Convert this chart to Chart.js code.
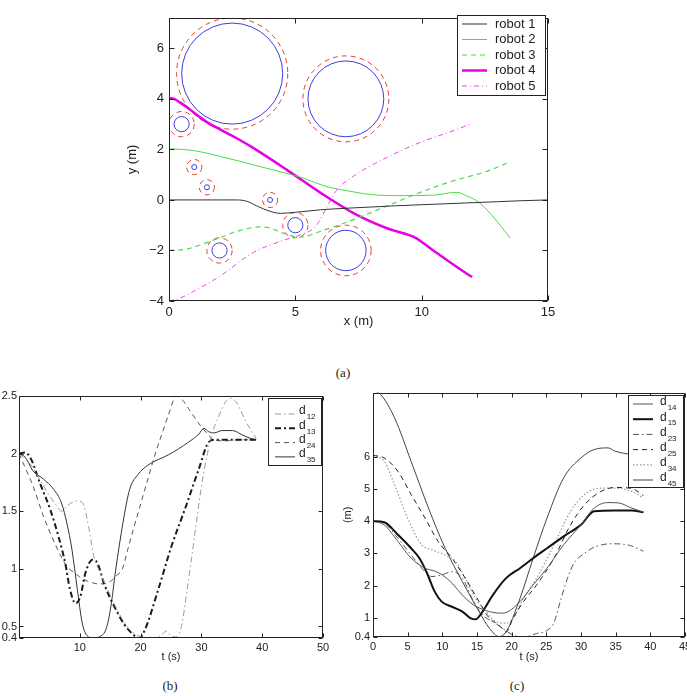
<!DOCTYPE html>
<html>
<head>
<meta charset="utf-8">
<script src="https://cdn.jsdelivr.net/npm/chart.js@4.4.1/dist/chart.umd.min.js"></script>
<style>
  html, body { margin: 0; padding: 0; background: #fff; width: 687px; height: 696px; overflow: hidden; }
  canvas { position: absolute; }
  .cap { position: absolute; font-family: 'Liberation Serif', 'DejaVu Serif', serif; font-size: 13px; color: #222; transform: translate(-50%, -50%); }
</style>
</head>
<body>
<canvas id="chartA" width="460" height="335" style="left:115px;top:0px"></canvas>
<canvas id="chartB" width="340" height="285" style="left:0px;top:385px"></canvas>
<canvas id="chartC" width="370" height="290" style="left:340px;top:383px"></canvas>
<div class="cap" style="left:343px;top:373px">(a)</div>
<div class="cap" style="left:170px;top:686px">(b)</div>
<div class="cap" style="left:517px;top:686px">(c)</div>
<script>
// ---- (a) robot paths in the plane ----
const xTicksA = [0, 5, 10, 15];
const yTicksA = [-4, -2, 0, 2, 4, 6];

const robot1X = [0, 1, 2, 2.7, 3.1, 3.5, 4, 4.4, 5, 6, 7, 8, 9, 10, 11, 12, 13, 14, 15];
const robot1Y = [0, 0, 0, 0, -0.06, -0.25, -0.45, -0.53, -0.49, -0.39, -0.33, -0.28, -0.23, -0.19, -0.15, -0.11, -0.07, -0.03, 0];
const robot2X = [0, 0.5, 1, 2, 3.3, 4.65, 5.3, 6.2, 7.3, 8, 9.3, 10.6, 11.1, 11.4, 11.8, 12.2, 12.7, 13.5];
const robot2Y = [2.02, 2.0, 1.95, 1.73, 1.4, 1.05, 0.87, 0.54, 0.32, 0.21, 0.17, 0.2, 0.28, 0.3, 0.15, -0.05, -0.52, -1.5];
const robot3X = [0, 0.7, 2, 2.7, 3.6, 4, 4.5, 5.2, 6, 7.3, 8.6, 9.9, 11.2, 12.6, 13.5];
const robot3Y = [-2, -1.94, -1.5, -1.24, -1.07, -1.11, -1.31, -1.47, -1.24, -0.78, -0.25, 0.28, 0.74, 1.14, 1.51];
const robot4X = [0, 0.2, 0.43, 0.83, 1.23, 1.5, 2.02, 2.68, 3.33, 4.65, 6, 7.3, 8.6, 9, 9.7, 10.6, 11.9, 12];
const robot4Y = [4.03, 4.0, 3.86, 3.58, 3.27, 3.08, 2.79, 2.44, 2.06, 1.2, 0.28, -0.52, -1.11, -1.24, -1.47, -2.1, -2.99, -3.05];
const robot5X = [0, 0.43, 1, 2, 3.3, 4.4, 5.2, 5.8, 6.2, 6.6, 7.3, 8.6, 9.9, 11.2, 12];
const robot5Y = [-4, -3.89, -3.6, -3.03, -2.1, -1.64, -1.38, -1.05, -0.38, 0.34, 0.94, 1.67, 2.26, 2.72, 3.03];

// obstacles: centre, body radius, safety radius
const obstacleX = [2.5, 7, 0.5, 1, 1.5, 4, 5, 2, 7];
const obstacleY = [5, 4, 3, 1.3, 0.5, 0, -1, -2, -2];
const obstacleR = [2, 1.5, 0.3, 0.1, 0.1, 0.1, 0.3, 0.3, 0.8];
const obstacleSafeR = [2.2, 1.7, 0.5, 0.3, 0.3, 0.3, 0.5, 0.5, 1.0];

// ---- (b) neighbour distances ----
const xTicksB = [0, 10, 20, 30, 40, 50];
const yTicksB = [0.4, 0.5, 1, 1.5, 2, 2.5];
const d12T = [0, 2, 4, 6, 7, 8, 9.5, 10.5, 11.5, 12.3, 13.5, 14.6, 16.2, 17.9, 19.6, 21, 22.5, 23.5, 24.2, 25, 26, 26.8, 27.6, 28.4, 29.3, 30.1, 31, 31.5, 32.9, 34, 34.8, 35.7, 36.5, 37.3, 38.2, 39];
const d12V = [2, 1.9, 1.72, 1.56, 1.5, 1.55, 1.59, 1.57, 1.35, 1.11, 0.95, 0.82, 0.64, 0.49, 0.42, 0.4, 0.4, 0.43, 0.46, 0.42, 0.41, 0.52, 0.8, 1.1, 1.45, 1.75, 2.0, 2.13, 2.33, 2.45, 2.48, 2.45, 2.37, 2.28, 2.2, 2.13];
const d13T = [0, 1, 2, 3.4, 5.1, 6.5, 7.6, 8.4, 9.3, 10.1, 10.9, 12.1, 12.9, 14, 15.7, 17.3, 19, 19.8, 20.7, 22.9, 25.1, 27.3, 29.6, 31.2, 32.3, 35.7, 39];
const d13V = [2, 2.01, 1.95, 1.75, 1.52, 1.28, 1.05, 0.82, 0.7, 0.76, 0.96, 1.08, 1.05, 0.87, 0.67, 0.52, 0.42, 0.4, 0.47, 0.82, 1.2, 1.52, 1.87, 2.1, 2.12, 2.12, 2.12];
const d24T = [0, 1, 2.3, 4, 5.9, 7.9, 9, 10, 11, 12, 13, 14, 15, 16, 17, 17.9, 19, 20.1, 21.2, 22.3, 23.5, 24.6, 25.9, 26.8, 27.9, 29.6, 31.2, 32, 34, 36, 39];
const d24V = [2, 1.88, 1.72, 1.46, 1.22, 1.02, 0.97, 0.93, 0.9, 0.88, 0.87, 0.87, 0.89, 0.94, 1.0, 1.17, 1.38, 1.58, 1.78, 1.98, 2.17, 2.34, 2.5, 2.47, 2.39, 2.26, 2.16, 2.12, 2.11, 2.12, 2.12];
const d35T = [0, 1, 2.3, 4, 5.7, 7, 7.9, 8.7, 9.6, 10.4, 11.2, 12.2, 13.2, 14.4, 15.1, 15.9, 17.1, 18.2, 19.6, 21.2, 24.6, 26.2, 27.9, 28.7, 29.6, 30.4, 31.2, 32.1, 33.4, 35.1, 36.8, 38.2, 39];
const d35V = [2, 1.97, 1.85, 1.78, 1.69, 1.57, 1.39, 1.17, 0.82, 0.53, 0.42, 0.4, 0.41, 0.49, 0.67, 0.99, 1.4, 1.69, 1.82, 1.9, 1.99, 2.04, 2.1, 2.13, 2.17, 2.22, 2.19, 2.18, 2.2, 2.2, 2.16, 2.13, 2.12];

// ---- (c) other robot pairs ----
const xTicksC = [0, 5, 10, 15, 20, 25, 30, 35, 40, 45];
const yTicksC = [0.4, 1, 2, 3, 4, 5, 6];
const d14T = [0, 1.6, 3.6, 5.5, 7.5, 8.9, 10, 11.5, 12.9, 14.5, 16.8, 18.7, 21.2, 23.1, 25.1, 27.5, 30, 31.9, 33.9, 35.4, 37.3, 39];
const d14V = [4, 3.89, 3.37, 2.85, 2.54, 2.45, 2.33, 2.05, 1.7, 1.4, 1.19, 1.14, 1.5, 2.02, 2.54, 3.27, 3.89, 4.41, 4.58, 4.57, 4.41, 4.28];
const d15T = [0, 1.6, 3.6, 5.5, 6.7, 7.7, 8.9, 9.9, 11.4, 12.9, 14.1, 14.8, 15.8, 17.3, 19.2, 21.2, 23.1, 25.1, 27.5, 30, 31.9, 34.9, 37.3, 39];
const d15V = [4, 3.97, 3.58, 3.16, 2.85, 2.43, 1.81, 1.5, 1.34, 1.19, 0.98, 0.95, 1.19, 1.71, 2.23, 2.54, 2.85, 3.16, 3.53, 3.89, 4.31, 4.33, 4.33, 4.28];
const d23T = [0, 1.6, 3.6, 5.5, 7.5, 8.5, 9.9, 11.4, 12.9, 14.3, 15.8, 17.3, 18.7, 20.2, 21.7, 23.6, 25.1, 26.1, 27, 28, 29, 30.5, 32, 34.5, 37, 39];
const d23V = [4, 3.94, 3.47, 2.95, 2.43, 2.28, 2.33, 2.43, 2.23, 1.6, 1.08, 0.88, 0.67, 0.46, 0.4, 0.51, 0.6, 0.85, 1.5, 2.2, 2.7, 3.0, 3.2, 3.3, 3.25, 3.07];
const d25T = [0, 1.6, 3.6, 5.5, 7.5, 9.4, 11.4, 13.3, 15.3, 16.8, 18.2, 19.2, 20.2, 21.7, 23.6, 26.1, 28.5, 30.5, 32.9, 34.9, 37.3, 39];
const d25V = [6.05, 5.97, 5.55, 4.83, 4.1, 3.37, 2.85, 2.23, 1.5, 0.98, 0.77, 0.56, 0.98, 1.5, 2.02, 2.85, 3.89, 4.51, 4.93, 5.05, 5.02, 4.8];
const d34T = [0, 1.6, 3.1, 5, 7, 8.5, 10.4, 11.9, 13.3, 14.8, 16.3, 17.7, 19.2, 20.2, 21.7, 23.6, 26.1, 28.5, 30.5, 32.9, 34.9, 37.3, 39];
const d34V = [6.05, 5.87, 5.14, 4.1, 3.27, 3.11, 2.95, 2.75, 2.23, 1.6, 1.19, 0.88, 0.83, 0.98, 1.6, 2.23, 3.27, 4.31, 4.83, 5.03, 5.03, 4.93, 4.72];
const d45T = [0, 1.1, 3.1, 5.5, 8, 10.4, 12.9, 15.3, 16.8, 18.2, 19.2, 21.2, 23.1, 25.1, 27.5, 30, 31.9, 33.9, 34.9, 37.3, 39];
const d45V = [8.07, 7.94, 7.22, 5.86, 4.41, 3.16, 2.12, 1.19, 0.67, 0.41, 0.56, 1.6, 2.85, 4.1, 5.35, 5.97, 6.23, 6.28, 6.18, 6.07, 6.0];

const sans = "'Liberation Sans', Arial, Helvetica, sans-serif";
Chart.defaults.font.family = sans;
Chart.defaults.color = '#222';
Chart.defaults.animation = false;

function pts(xs, ys) {
  return xs.map((x, i) => ({ x: x, y: ys[i] }));
}

function series(label, xs, ys, color, width, dash) {
  return {
    label: label,
    data: pts(xs, ys),
    borderColor: color,
    borderWidth: width,
    borderDash: dash || [],
    pointRadius: 0,
    fill: false,
    tension: 0.4,
    cubicInterpolationMode: 'monotone'
  };
}

function fmtMinus(v) {
  return v < 0 ? '\u2212' + Math.abs(v) : String(v);
}

// box round the plot + inward tick marks on all four sides
const framePlugin = {
  id: 'frame',
  afterDatasetsDraw(chart, args, opts) {
    const { ctx, chartArea: a, scales } = chart;
    const len = opts.len || 4;
    const L = Math.round(a.left) + 0.5, R = Math.round(a.right) - 0.5;
    const T = Math.round(a.top) + 0.5, B = Math.round(a.bottom) - 0.5;
    ctx.save();
    ctx.strokeStyle = '#222';
    ctx.lineWidth = 1;
    ctx.setLineDash([]);
    ctx.beginPath();
    scales.x.ticks.forEach(t => {
      const px = Math.round(scales.x.getPixelForValue(t.value)) + 0.5;
      ctx.moveTo(px, B); ctx.lineTo(px, B - len);
      ctx.moveTo(px, T); ctx.lineTo(px, T + len);
    });
    scales.y.ticks.forEach(t => {
      const py = Math.round(scales.y.getPixelForValue(t.value)) + 0.5;
      ctx.moveTo(L, py); ctx.lineTo(L + len, py);
      ctx.moveTo(R, py); ctx.lineTo(R - len, py);
    });
    ctx.stroke();
    ctx.strokeRect(L, T, R - L, B - T);
    ctx.restore();
  }
};

// obstacle circles (blue body, red dashed safety ring) in data units
const obstaclePlugin = {
  id: 'obstacles',
  beforeDatasetsDraw(chart) {
    const { ctx, chartArea: a, scales } = chart;
    ctx.save();
    ctx.beginPath();
    ctx.rect(a.left, a.top, a.right - a.left, a.bottom - a.top);
    ctx.clip();
    ctx.lineWidth = 1;
    obstacleX.forEach((ox, i) => {
      const cx = scales.x.getPixelForValue(ox);
      const cy = scales.y.getPixelForValue(obstacleY[i]);
      const rSafe = scales.x.getPixelForValue(ox + obstacleSafeR[i]) - cx;
      const rBody = scales.x.getPixelForValue(ox + obstacleR[i]) - cx;
      ctx.strokeStyle = 'rgb(232, 60, 45)';
      ctx.setLineDash([5, 4]);
      ctx.beginPath();
      ctx.arc(cx, cy, rSafe, 0, Math.PI * 2);
      ctx.stroke();
      ctx.strokeStyle = 'rgb(60, 60, 225)';
      ctx.setLineDash([]);
      ctx.beginPath();
      ctx.arc(cx, cy, rBody, 0, Math.PI * 2);
      ctx.stroke();
    });
    ctx.restore();
  }
};

// legend box inside the plot, matlab style
const boxLegendPlugin = {
  id: 'boxLegend',
  afterDraw(chart, args, o) {
    if (!o || !o.w) return;
    const ctx = chart.ctx;
    ctx.save();
    ctx.fillStyle = '#fff';
    ctx.fillRect(o.x, o.y, o.w, o.h);
    ctx.strokeStyle = '#222';
    ctx.lineWidth = 1;
    ctx.setLineDash([]);
    ctx.strokeRect(o.x + 0.5, o.y + 0.5, o.w, o.h);
    chart.data.datasets.forEach((ds, i) => {
      const ry = o.row0 + i * o.step;
      ctx.strokeStyle = ds.borderColor;
      ctx.lineWidth = ds.borderWidth;
      ctx.setLineDash(ds.borderDash || []);
      ctx.beginPath();
      ctx.moveTo(o.lx0, ry);
      ctx.lineTo(o.lx1, ry);
      ctx.stroke();
      ctx.fillStyle = '#222';
      ctx.textBaseline = 'middle';
      ctx.textAlign = 'left';
      const parts = ds.label.split('_');
      ctx.font = o.size + 'px ' + sans;
      ctx.fillText(parts[0], o.tx, ry + (o.mainDy || 0));
      if (parts[1]) {
        const w = ctx.measureText(parts[0]).width;
        ctx.font = o.subSize + 'px ' + sans;
        ctx.fillText(parts[1], o.tx + w + 1, ry + o.subDy);
      }
    });
    ctx.restore();
  }
};

function axes(cfg) {
  return {
    x: {
      type: 'linear', min: cfg.xMin, max: cfg.xMax,
      afterBuildTicks: s => { s.ticks = cfg.xTicks.map(v => ({ value: v })); },
      afterFit: s => { s.height = cfg.xH; },
      grid: { display: false, drawTicks: false }, border: { display: false },
      ticks: {
        autoSkip: false, maxRotation: 0, padding: cfg.xPad, color: '#222',
        font: { size: cfg.size },
        callback: v => (cfg.hideX0 && v === 0) ? '' : fmtMinus(v)
      },
      title: { display: !!cfg.xTitle, text: cfg.xTitle, color: '#222', font: { size: cfg.size }, padding: { top: 0, bottom: cfg.xTitlePad } }
    },
    y: {
      type: 'linear', min: cfg.yMin, max: cfg.yMax,
      afterBuildTicks: s => { s.ticks = cfg.yTicks.map(v => ({ value: v })); },
      afterFit: s => { s.width = cfg.yW; },
      grid: { display: false, drawTicks: false }, border: { display: false },
      ticks: { autoSkip: false, padding: cfg.yPad, color: '#222', font: { size: cfg.size }, callback: v => fmtMinus(v) },
      title: { display: !!cfg.yTitle, text: cfg.yTitle, color: '#222', font: { size: cfg.size }, padding: { top: cfg.yTitlePad, bottom: 0 } }
    }
  };
}

const magenta = 'rgb(230, 0, 230)';
const green = 'rgb(70, 220, 70)';

new Chart(document.getElementById('chartA'), {
  type: 'line',
  data: {
    datasets: [
      series('robot 1', robot1X, robot1Y, '#333', 1),
      series('robot 2', robot2X, robot2Y, green, 1),
      series('robot 3', robot3X, robot3Y, green, 1.2, [5, 4]),
      series('robot 4', robot4X, robot4Y, magenta, 2.5),
      series('robot 5', robot5X, robot5Y, 'rgb(235, 70, 235)', 1, [5, 3, 1, 3])
    ]
  },
  options: {
    responsive: false,
    layout: { padding: { left: 0, right: 27, top: 18, bottom: 4 } },
    plugins: {
      legend: { display: false }, tooltip: { enabled: false },
      frame: { len: 5 },
      boxLegend: { x: 342, y: 15, w: 88, h: 80, row0: 24, step: 15.5, lx0: 347, lx1: 372, tx: 380, size: 13, subSize: 9, mainDy: 0, subDy: 0 }
    },
    scales: axes({
      xMin: 0, xMax: 15, yMin: -4, yMax: 7.2, xTicks: xTicksA, yTicks: yTicksA,
      xH: 30, yW: 54, xPad: 4, yPad: 5, size: 13,
      xTitle: 'x (m)', xTitlePad: 2, yTitle: 'y (m)', yTitlePad: 10
    })
  },
  plugins: [obstaclePlugin, framePlugin, boxLegendPlugin]
});

new Chart(document.getElementById('chartB'), {
  type: 'line',
  data: {
    datasets: [
      series('d_12', d12T, d12V, '#999', 1, [6, 3, 1.5, 3]),
      series('d_13', d13T, d13V, '#1a1a1a', 2, [6, 3, 2, 3]),
      series('d_24', d24T, d24V, '#555', 1, [5, 4]),
      series('d_35', d35T, d35V, '#333', 1)
    ]
  },
  options: {
    responsive: false,
    layout: { padding: { left: 0, right: 17, top: 11, bottom: 6 } },
    plugins: {
      legend: { display: false }, tooltip: { enabled: false },
      frame: { len: 4 },
      boxLegend: { x: 268, y: 13, w: 53, h: 67, row0: 29, step: 14.3, lx0: 275, lx1: 295, tx: 299, size: 12, subSize: 8, mainDy: -3, subDy: 3 }
    },
    scales: axes({
      xMin: 0, xMax: 50, yMin: 0.4, yMax: 2.5, xTicks: xTicksB, yTicks: yTicksB,
      xH: 26, yW: 19, xPad: 3, yPad: 2, size: 11, hideX0: true,
      xTitle: 't (s)', xTitlePad: 0
    })
  },
  plugins: [framePlugin, boxLegendPlugin]
});

new Chart(document.getElementById('chartC'), {
  type: 'line',
  data: {
    datasets: [
      series('d_14', d14T, d14V, '#555', 1),
      series('d_15', d15T, d15V, '#111', 2),
      series('d_23', d23T, d23V, '#555', 1, [6, 3, 1.5, 3]),
      series('d_25', d25T, d25V, '#222', 1, [5, 4]),
      series('d_34', d34T, d34V, '#999', 1.2, [1.5, 2]),
      series('d_45', d45T, d45V, '#444', 1)
    ]
  },
  options: {
    responsive: false,
    layout: { padding: { left: 0, right: 25, top: 8, bottom: 9 } },
    plugins: {
      legend: { display: false }, tooltip: { enabled: false },
      frame: { len: 4 },
      boxLegend: { x: 288, y: 12, w: 55, h: 92, row0: 21, step: 15.2, lx0: 293, lx1: 313, tx: 320, size: 12, subSize: 8, mainDy: -2, subDy: 4 }
    },
    scales: axes({
      xMin: 0, xMax: 45, yMin: 0.4, yMax: 8, xTicks: xTicksC, yTicks: yTicksC,
      xH: 27, yW: 33, xPad: 3, yPad: 3, size: 11,
      xTitle: 't (s)', xTitlePad: 0, yTitle: '(m)', yTitlePad: 1
    })
  },
  plugins: [framePlugin, boxLegendPlugin]
});
</script>
</body>
</html>
